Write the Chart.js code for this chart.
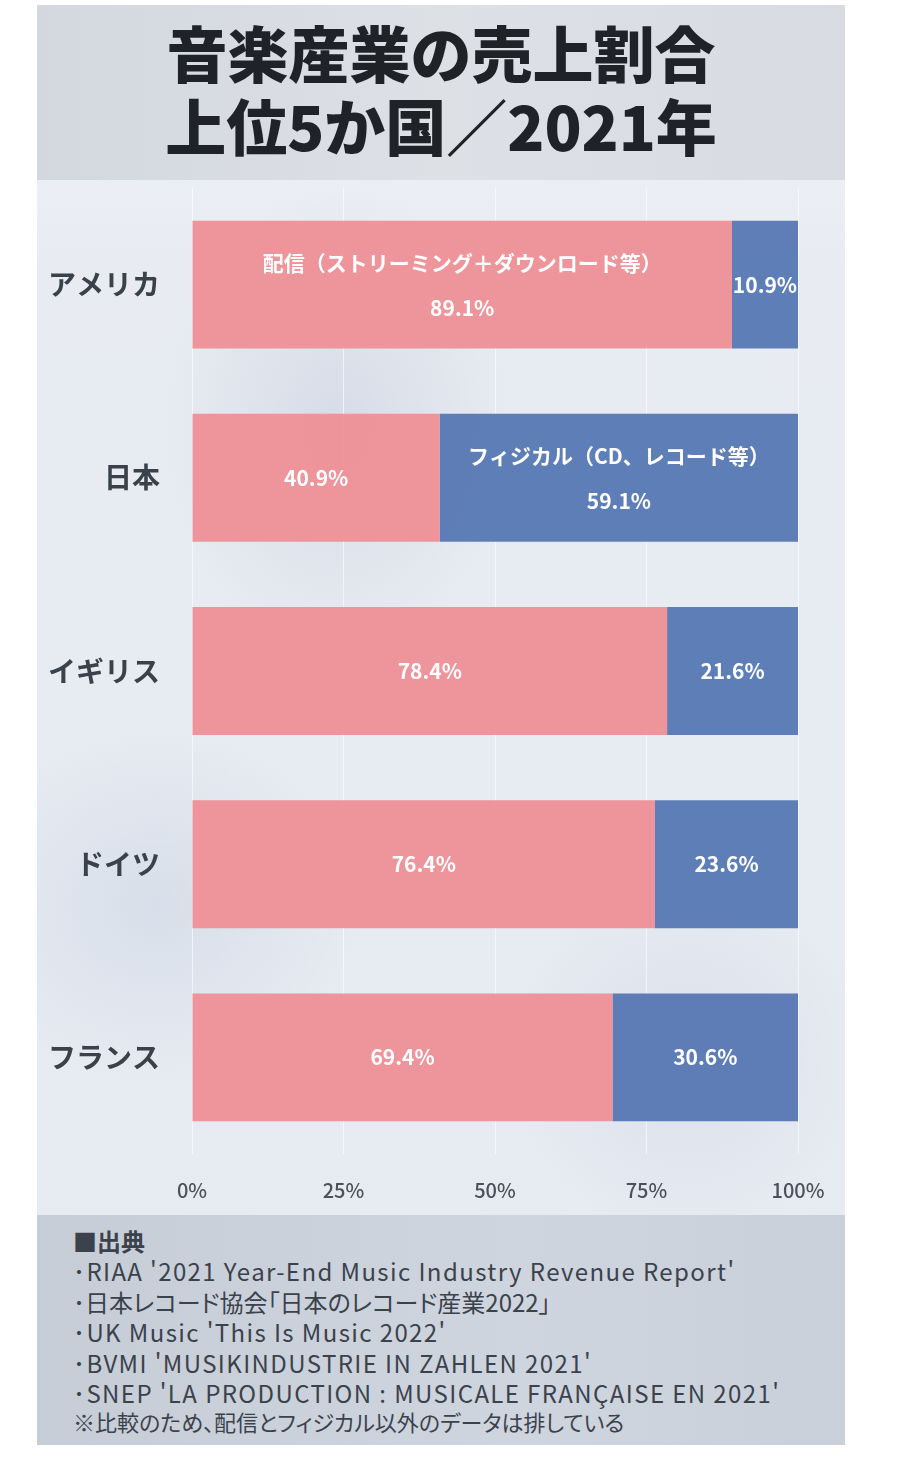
<!DOCTYPE html>
<html lang="ja">
<head>
<meta charset="utf-8">
<script src="https://cdn.jsdelivr.net/npm/chart.js@4.4.1/dist/chart.umd.min.js"></script>
<style>
  html, body { margin:0; padding:0; background:#ffffff; width:899px; height:1466px; overflow:hidden; }
  body { font-family: "Noto Sans CJK JP", "Noto Sans", sans-serif; }
  #card { position:absolute; left:37px; top:5px; width:808px; height:1440px;
    background:
      radial-gradient(ellipse 260px 340px at 300px 420px, rgba(200,208,222,0.55), rgba(200,208,222,0) 70%),
      radial-gradient(ellipse 300px 260px at 120px 900px, rgba(205,214,228,0.6), rgba(205,214,228,0) 70%),
      radial-gradient(ellipse 260px 260px at 650px 1050px, rgba(205,214,228,0.5), rgba(205,214,228,0) 70%),
      linear-gradient(#f1f3f7 0px, #e8ecf2 260px, #e6ebf2);
    overflow:hidden; }
  #titleband { position:absolute; left:0; top:0; width:808px; height:175px;
    background: linear-gradient(90deg, #d3d8df, #dde0e5 50%, #d8dce2); }
  #title { position:absolute; left:0; top:10px; width:808px; text-align:center;
    font-weight:900; font-size:61px; line-height:73px; color:#1f2226; }
  #footer { position:absolute; left:0; top:1210px; width:808px; height:230px;
    background: linear-gradient(90deg, #c6cdd7, #cfd5de 60%, #c9d0d9); }
  #src { position:absolute; left:36px; top:11px; color:#3b424c; font-size:24px; line-height:30.4px;
    font-feature-settings: "palt"; letter-spacing:1.4px; }
  #src div { white-space:nowrap; }
  #src .jp { letter-spacing:0px; }
  #chartwrap { position:absolute; left:0; top:175px; width:808px; height:1035px; }
</style>
</head>
<body>
<div id="card">
  <div id="titleband"></div>
  <div id="title">音楽産業の売上割合<br>上位5か国／2021年</div>
  <div id="chartwrap"><canvas id="c" width="808" height="1035"></canvas></div>
  <div id="footer">
    <div id="src">
      <div style="font-weight:700;letter-spacing:0;">■出典</div>
      <div>･RIAA '2021 Year-End Music Industry Revenue Report'</div>
      <div class="jp">･日本レコード協会「日本のレコード産業2022」</div>
      <div>･UK Music 'This Is Music 2022'</div>
      <div>･BVMI 'MUSIKINDUSTRIE IN ZAHLEN 2021'</div>
      <div>･SNEP 'LA PRODUCTION : MUSICALE FRANÇAISE EN 2021'</div>
      <div class="jp" style="font-size:22px;line-height:27px;">※比較のため、配信とフィジカル以外のデータは排している</div>
    </div>
  </div>
</div>
<script>
const countries = ["アメリカ", "日本", "イギリス", "ドイツ", "フランス"];
const digitalShare = [89.1, 40.9, 78.4, 76.4, 69.4];
const physicalShare = [10.9, 59.1, 21.6, 23.6, 30.6];
const seriesNames = ["配信（ストリーミング＋ダウンロード等）", "フィジカル（CD、レコード等）"];
const xTicks = [0, 25, 50, 75, 100];
// index of the category where each series name is written inside the bar
const nameShownAt = [0, 1];

const FONT = '"Noto Sans CJK JP", "Noto Sans", sans-serif';

const labelPlugin = {
  id: 'barLabels',
  afterDatasetsDraw(chart) {
    const ctx = chart.ctx;
    ctx.save();
    ctx.fillStyle = '#ffffff';
    ctx.textAlign = 'center';
    ctx.textBaseline = 'middle';
    chart.data.datasets.forEach((ds, di) => {
      const meta = chart.getDatasetMeta(di);
      meta.data.forEach((bar, i) => {
        const cx = (bar.x + bar.base) / 2;
        const cy = bar.y;
        const txt = ds.data[i].toFixed(1) + '%';
        if (nameShownAt[di] === i) {
          ctx.font = '700 21px ' + FONT;
          ctx.fillText(seriesNames[di], cx, cy - 22);
          ctx.font = '700 21px ' + FONT;
          ctx.fillText(txt, cx, cy + 23);
        } else {
          ctx.font = '700 21px ' + FONT;
          ctx.fillText(txt, cx, cy);
        }
      });
    });
    ctx.restore();
  }
};

new Chart(document.getElementById('c'), {
  type: 'bar',
  data: {
    labels: countries,
    datasets: [
      { label: seriesNames[0], data: digitalShare, backgroundColor: 'rgba(238,143,150,0.94)', borderWidth: 0,
        categoryPercentage: 1, barPercentage: 0.662 },
      { label: seriesNames[1], data: physicalShare, backgroundColor: 'rgba(88,121,180,0.96)', borderWidth: 0,
        categoryPercentage: 1, barPercentage: 0.662 }
    ]
  },
  options: {
    indexAxis: 'y',
    responsive: false,
    animation: false,
    devicePixelRatio: 1,
    layout: { padding: { top: 8, right: 47, left: 0, bottom: 0 } },
    plugins: { legend: { display: false }, tooltip: { enabled: false }, title: { display: false } },
    scales: {
      x: {
        stacked: true, min: 0, max: 100,
        afterBuildTicks(scale) { scale.ticks = xTicks.map(v => ({ value: v })); },
        afterFit(scale) { scale.height = 61; scale.paddingLeft = 0; scale.paddingRight = 0; },
        grid: { color: 'rgba(255,255,255,0.6)', lineWidth: 1, drawTicks: false },
        border: { display: false },
        ticks: { padding: 24, color: '#4a515c', font: { family: FONT, size: 20, weight: '500' },
                 callback: (v) => v + '%' }
      },
      y: {
        stacked: true,
        afterFit(scale) { scale.width = 155; scale.paddingTop = 0; scale.paddingBottom = 0; },
        grid: { display: false, drawTicks: false },
        border: { display: false },
        ticks: { padding: 32, color: '#3a414b', font: { family: FONT, size: 28, weight: '700' } }
      }
    }
  },
  plugins: [labelPlugin]
});
</script>
</body>
</html>
